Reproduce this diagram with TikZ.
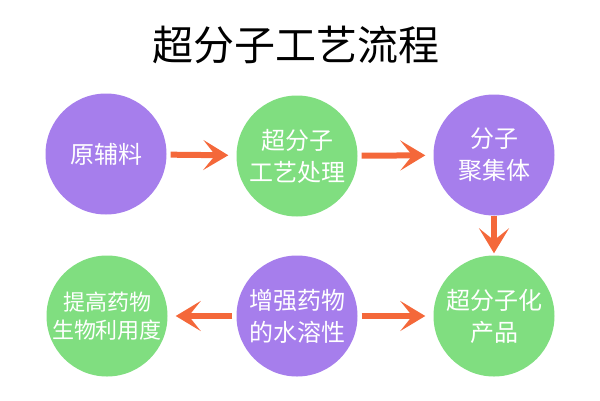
\documentclass[tikz,border=0pt]{standalone}
\usepackage{fontspec}
\setmainfont{Noto Sans CJK SC}
\usepackage{tikz}
\usetikzlibrary{arrows.meta,shapes}
\definecolor{lila}{HTML}{A67EEC}
\definecolor{vert}{HTML}{80DE80}
\definecolor{orange}{HTML}{F4683A}
\tikzstyle{rond}=[circle, minimum size=121pt, inner sep=0pt, text=white, align=center, font=\fontsize{24}{32}\selectfont]
\tikzstyle{fleche}=[draw=orange, line width=6pt, -{Stealth[length=25pt, width=30pt, inset=12pt]}, shorten >=8pt, shorten <=4pt]

\begin{document}
\begin{tikzpicture}[x=1pt, y=-1pt]
\useasboundingbox (0,0) rectangle (600,400);

% titre
\node (titre) at (296,45) {\fontsize{41}{44}\selectfont 超分子工艺流程};

% ligne du haut
\node[rond, fill=lila] (brut) at (106,154) {原辅料};
\node[rond, fill=vert] (proc) at (297,156) {超分子\\工艺处理};
\node[rond, fill=lila] (agreg) at (494,155) {分子\\聚集体};

% ligne du bas
\node[rond, fill=vert, font=\fontsize{22}{28}\selectfont] (bio) at (107,316) {提高药物\\生物利用度};
\node[rond, fill=lila] (sol) at (297,316) {增强药物\\的水溶性};
\node[rond, fill=vert] (prod) at (494,316) {超分子化\\产品};

% fleches
\draw[fleche] (brut) -- (proc);
\draw[fleche] (proc) -- (agreg);
\draw[fleche, shorten >=2pt, shorten <=0pt] (agreg) -- (prod);
\draw[fleche] (sol) -- (prod);
\draw[fleche] (sol) -- (bio);

\end{tikzpicture}
\end{document}
